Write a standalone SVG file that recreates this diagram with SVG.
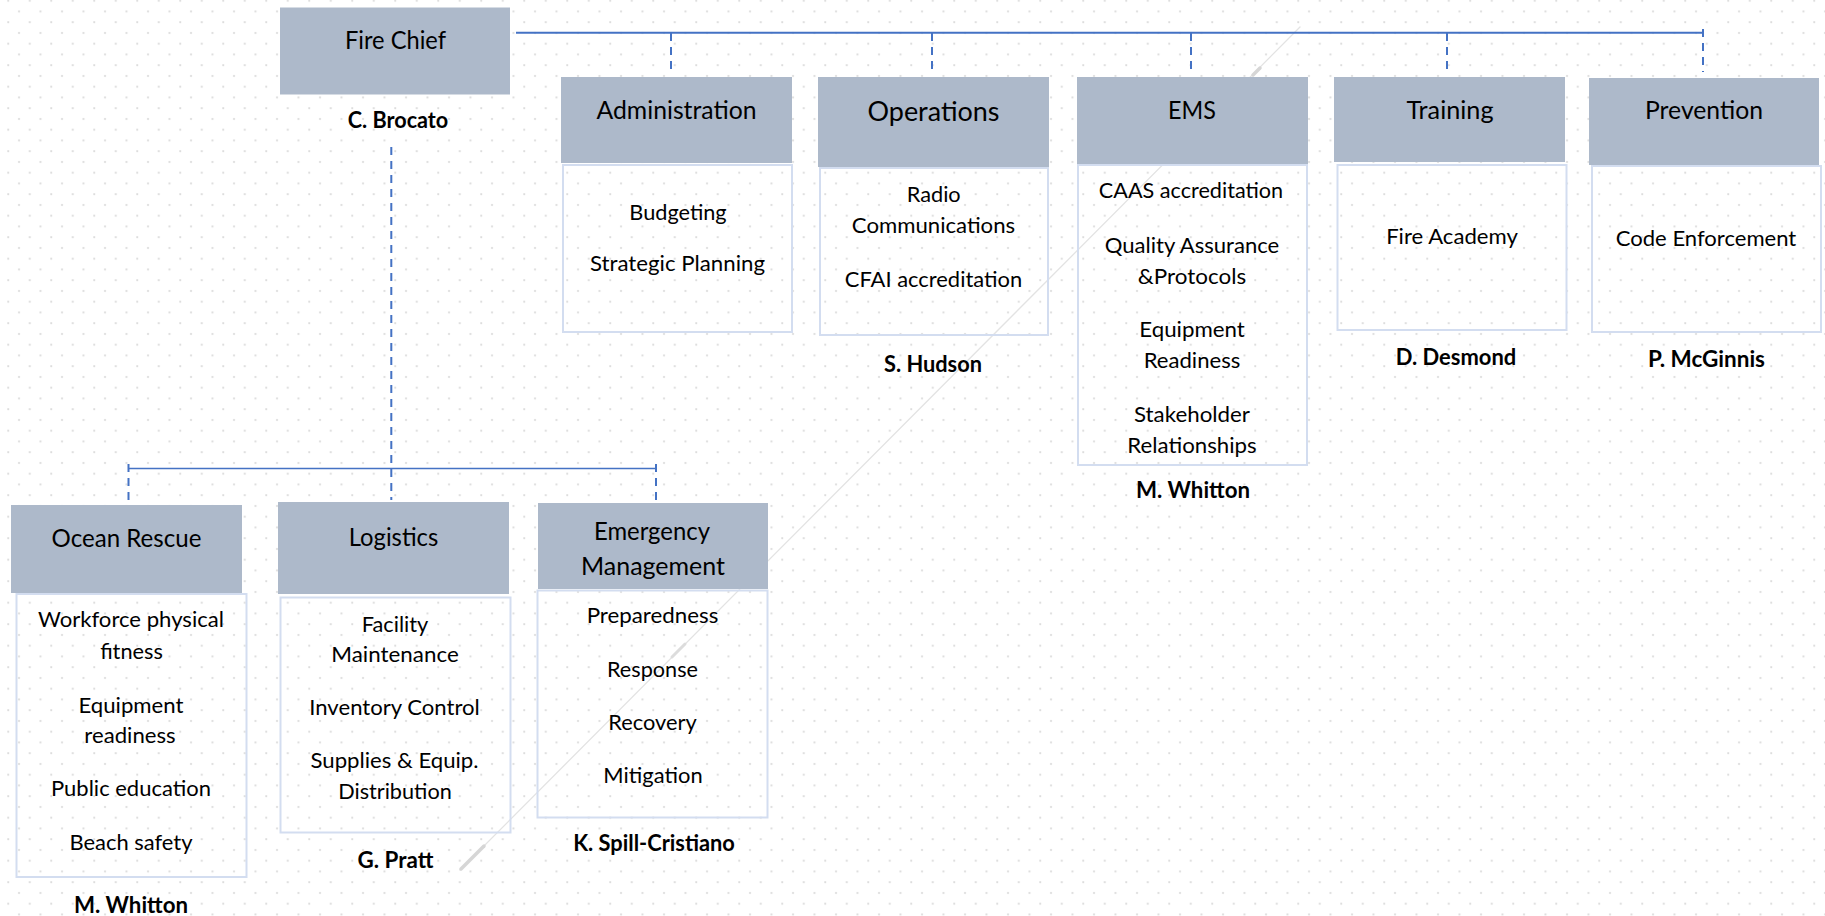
<svg xmlns="http://www.w3.org/2000/svg" width="1825" height="916" viewBox="0 0 1825 916">
<defs>
<pattern id="dots" patternUnits="userSpaceOnUse" x="3.25" y="-4.25" width="21.5" height="21.5">
<circle cx="5" cy="5" r="1.1" fill="#DADADA"/>
<circle cx="15.75" cy="15.75" r="1.1" fill="#DADADA"/>
</pattern>
<style>
.hd{fill:#ADB9CA}
.bd{fill:none;stroke:#D3DDF0;stroke-width:2}
.ln{stroke:#4472C4;stroke-width:2;fill:none}
.ln2{stroke:#4472C4;stroke-width:1.4;fill:none}
.ds{stroke:#4472C4;stroke-width:2;fill:none;stroke-dasharray:8 6}
text{font-family:Lato,"Liberation Sans",sans-serif;fill:#000;text-anchor:middle}
.t{font-size:22px}
.h{font-size:24.5px}
.hl{font-size:27px}
.b{font-size:22px;font-weight:bold}
</style>
</defs>
<rect width="1825" height="916" fill="#FFFFFF"/>
<rect width="1825" height="916" fill="url(#dots)"/>
<g id="diagonal" stroke-linecap="round">
<line x1="460" y1="870" x2="1300" y2="27" stroke="#E3E3E3" stroke-width="1.3"/>
<line x1="461" y1="869" x2="484" y2="846" stroke="#D6D6D6" stroke-width="3.5"/>
<line x1="672" y1="657" x2="685" y2="644" stroke="#DCDCDC" stroke-width="3"/>
<line x1="1253" y1="75" x2="1260" y2="68" stroke="#D6D6D6" stroke-width="3.5"/>
</g>
<g id="connectors">
<line class="ln" x1="516" y1="32.7" x2="1703" y2="32.7"/>
<line class="ds" x1="671" y1="33" x2="671" y2="72"/>
<line class="ds" x1="932" y1="33" x2="932" y2="72"/>
<line class="ds" x1="1191" y1="33" x2="1191" y2="72"/>
<line class="ds" x1="1447" y1="33" x2="1447" y2="72"/>
<line class="ds" x1="1703" y1="29" x2="1703" y2="72"/>
<line class="ds" x1="391.3" y1="147" x2="391.3" y2="500"/>
<line class="ln2" x1="128.5" y1="468.5" x2="656" y2="468.5"/>
<line class="ds" x1="128.5" y1="464" x2="128.5" y2="501"/>
<line class="ds" x1="656" y1="464" x2="656" y2="501"/>
</g>
<g id="fire-chief">
<rect class="hd" x="280" y="7.5" width="230" height="87"/>
<text class="h" x="395.5" y="48.5" textLength="101" lengthAdjust="spacingAndGlyphs">Fire Chief</text>
<text class="b" x="398" y="128" textLength="100.5" lengthAdjust="spacingAndGlyphs">C. Brocato</text>
</g>
<g id="administration">
<rect class="bd" x="563" y="165" width="229" height="167"/>
<rect class="hd" x="561" y="77" width="231" height="86"/>
<text class="h" x="676.5" y="119" textLength="160" lengthAdjust="spacingAndGlyphs">Administration</text>
<text class="t" x="678" y="220" textLength="97.3" lengthAdjust="spacingAndGlyphs">Budgeting</text>
<text class="t" x="677.5" y="271" textLength="175" lengthAdjust="spacingAndGlyphs">Strategic Planning</text>
</g>
<g id="operations">
<rect class="bd" x="820" y="168" width="228" height="167"/>
<rect class="hd" x="818" y="77" width="231" height="90"/>
<text class="hl" x="933.5" y="121" textLength="132" lengthAdjust="spacingAndGlyphs">Operations</text>
<text class="t" x="933.7" y="202" textLength="54" lengthAdjust="spacingAndGlyphs">Radio</text>
<text class="t" x="933.5" y="233" textLength="163.3" lengthAdjust="spacingAndGlyphs">Communications</text>
<text class="t" x="933.5" y="287" textLength="177.3" lengthAdjust="spacingAndGlyphs">CFAI accreditation</text>
<text class="b" x="933" y="372" textLength="98" lengthAdjust="spacingAndGlyphs">S. Hudson</text>
</g>
<g id="ems">
<rect class="bd" x="1078" y="165" width="229" height="300"/>
<rect class="hd" x="1077" y="77" width="231" height="87"/>
<text class="h" x="1192" y="119.3" textLength="47.8" lengthAdjust="spacingAndGlyphs">EMS</text>
<text class="t" x="1191" y="198.3" textLength="184.4" lengthAdjust="spacingAndGlyphs">CAAS accreditation</text>
<text class="t" x="1192" y="252.7" textLength="174.6" lengthAdjust="spacingAndGlyphs">Quality Assurance</text>
<text class="t" x="1192" y="284" textLength="108.3" lengthAdjust="spacingAndGlyphs">&amp;Protocols</text>
<text class="t" x="1192" y="336.7" textLength="105.4" lengthAdjust="spacingAndGlyphs">Equipment</text>
<text class="t" x="1192" y="368.3" textLength="96.6" lengthAdjust="spacingAndGlyphs">Readiness</text>
<text class="t" x="1192" y="421.7" textLength="116" lengthAdjust="spacingAndGlyphs">Stakeholder</text>
<text class="t" x="1192" y="453.3" textLength="129.3" lengthAdjust="spacingAndGlyphs">Relationships</text>
<text class="b" x="1193" y="498" textLength="114" lengthAdjust="spacingAndGlyphs">M. Whitton</text>
</g>
<g id="training">
<rect class="bd" x="1337.5" y="165" width="229" height="165"/>
<rect class="hd" x="1334" y="77" width="231" height="85"/>
<text class="h" x="1450" y="119" textLength="87" lengthAdjust="spacingAndGlyphs">Training</text>
<text class="t" x="1452" y="244" textLength="131.7" lengthAdjust="spacingAndGlyphs">Fire Academy</text>
<text class="b" x="1456" y="365" textLength="120.5" lengthAdjust="spacingAndGlyphs">D. Desmond</text>
</g>
<g id="prevention">
<rect class="bd" x="1592" y="166" width="229" height="166"/>
<rect class="hd" x="1589" y="78" width="230" height="87"/>
<text class="h" x="1704" y="119" textLength="118" lengthAdjust="spacingAndGlyphs">Prevention</text>
<text class="t" x="1706" y="246" textLength="180.5" lengthAdjust="spacingAndGlyphs">Code Enforcement</text>
<text class="b" x="1706.5" y="366.7" textLength="117" lengthAdjust="spacingAndGlyphs">P. McGinnis</text>
</g>
<g id="ocean-rescue">
<rect class="bd" x="16.5" y="594" width="230" height="283"/>
<rect class="hd" x="11" y="505" width="231" height="88"/>
<text class="h" x="126.5" y="547.3" textLength="149.8" lengthAdjust="spacingAndGlyphs">Ocean Rescue</text>
<text class="t" x="131" y="627.3" textLength="186" lengthAdjust="spacingAndGlyphs">Workforce physical</text>
<text class="t" x="131.5" y="659.3" textLength="62.7" lengthAdjust="spacingAndGlyphs">fitness</text>
<text class="t" x="131" y="712.7" textLength="105" lengthAdjust="spacingAndGlyphs">Equipment</text>
<text class="t" x="130" y="742.7" textLength="91.3" lengthAdjust="spacingAndGlyphs">readiness</text>
<text class="t" x="131" y="796" textLength="160" lengthAdjust="spacingAndGlyphs">Public education</text>
<text class="t" x="131" y="850" textLength="123" lengthAdjust="spacingAndGlyphs">Beach safety</text>
<text class="b" x="131" y="913" textLength="114" lengthAdjust="spacingAndGlyphs">M. Whitton</text>
</g>
<g id="logistics">
<rect class="bd" x="280.5" y="597.5" width="230" height="235"/>
<rect class="hd" x="278" y="502" width="231" height="92"/>
<text class="h" x="393.5" y="546" textLength="89.5" lengthAdjust="spacingAndGlyphs">Logistics</text>
<text class="t" x="395" y="631.7" textLength="66.5" lengthAdjust="spacingAndGlyphs">Facility</text>
<text class="t" x="395" y="661.7" textLength="127.4" lengthAdjust="spacingAndGlyphs">Maintenance</text>
<text class="t" x="394.5" y="715" textLength="170.5" lengthAdjust="spacingAndGlyphs">Inventory Control</text>
<text class="t" x="394.5" y="768.3" textLength="168" lengthAdjust="spacingAndGlyphs">Supplies &amp; Equip.</text>
<text class="t" x="395" y="799.3" textLength="113.6" lengthAdjust="spacingAndGlyphs">Distribution</text>
<text class="b" x="395.5" y="868.3" textLength="75.8" lengthAdjust="spacingAndGlyphs">G. Pratt</text>
</g>
<g id="emergency-management">
<rect class="bd" x="537.5" y="590.5" width="230" height="227"/>
<rect class="hd" x="538" y="503" width="230" height="86"/>
<text class="h" x="652" y="540" textLength="116" lengthAdjust="spacingAndGlyphs">Emergency</text>
<text class="h" x="653" y="575" textLength="144" lengthAdjust="spacingAndGlyphs">Management</text>
<text class="t" x="652.5" y="623" textLength="131.7" lengthAdjust="spacingAndGlyphs">Preparedness</text>
<text class="t" x="652.5" y="676.7" textLength="91" lengthAdjust="spacingAndGlyphs">Response</text>
<text class="t" x="652.5" y="730" textLength="88.3" lengthAdjust="spacingAndGlyphs">Recovery</text>
<text class="t" x="653" y="783" textLength="99.3" lengthAdjust="spacingAndGlyphs">Mitigation</text>
<text class="b" x="654" y="850.7" textLength="161.7" lengthAdjust="spacingAndGlyphs">K. Spill-Cristiano</text>
</g>
</svg>
